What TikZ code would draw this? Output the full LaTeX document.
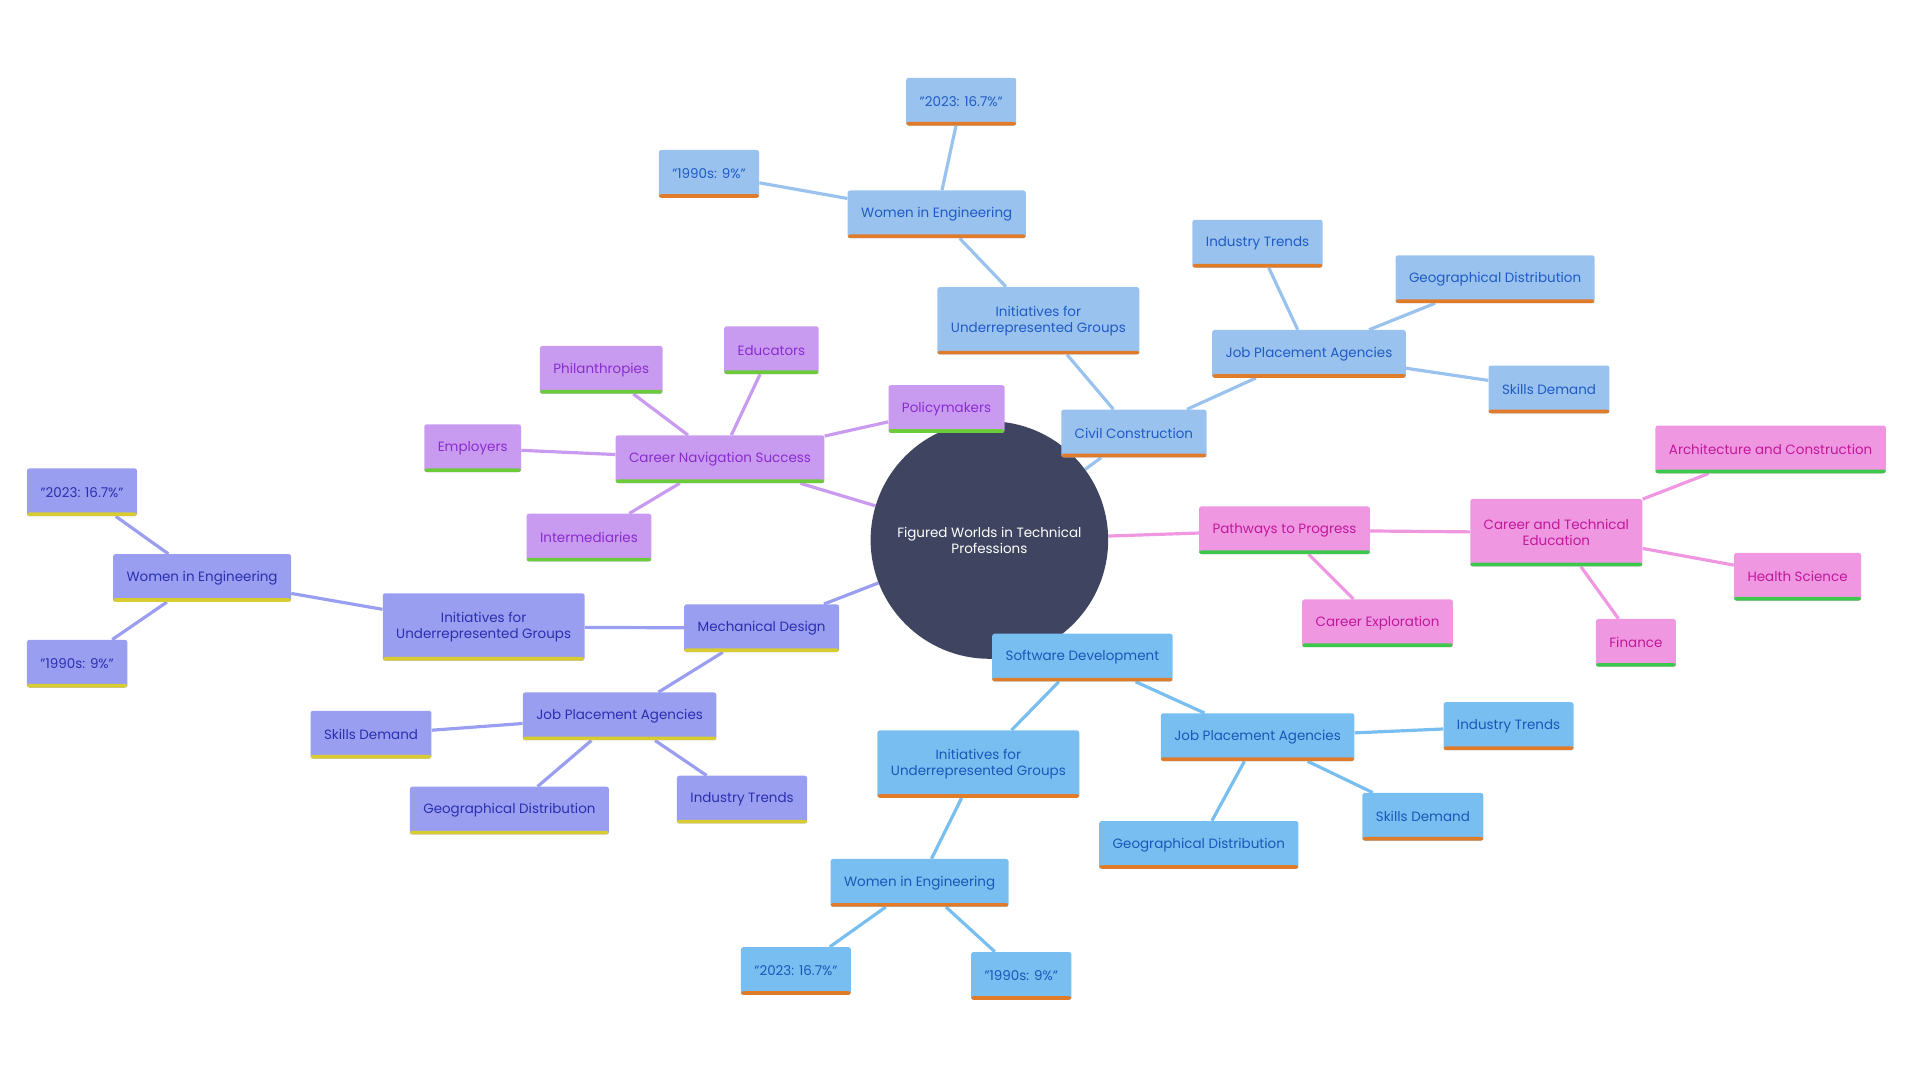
\documentclass[tikz,border=0pt]{standalone}
\usepackage{fontspec}
\setmainfont{Poppins}
\usetikzlibrary{backgrounds}

\definecolor{hubfill}{HTML}{3F4560}
\definecolor{civfill}{HTML}{9AC2EE}
\definecolor{civtext}{HTML}{1E5BC6}
\definecolor{navfill}{HTML}{C99BF0}
\definecolor{navtext}{HTML}{8A2BD0}
\definecolor{mechfill}{HTML}{9A9EF0}
\definecolor{mechtext}{HTML}{2A2FB0}
\definecolor{pathfill}{HTML}{F097E2}
\definecolor{pathtext}{HTML}{C0189A}
\definecolor{softfill}{HTML}{78BEF0}
\definecolor{softtext}{HTML}{1858B8}
\definecolor{barorange}{HTML}{E07B2A}
\definecolor{bargreen}{HTML}{6CCB3A}
\definecolor{barlime}{HTML}{3CC84A}
\definecolor{baryellow}{HTML}{D8CC30}

\tikzset{
  box/.style 2 args={rectangle, rounded corners=2pt, fill=#1, minimum height=39pt,
    inner xsep=11pt, align=center, font=\fontsize{11}{13}\selectfont,
    path picture={\fill[#2] (path picture bounding box.south west) rectangle
      ([yshift=3pt]path picture bounding box.south east);}},
  civ/.style={box={civfill}{barorange}, text=civtext},
  nav/.style={box={navfill}{bargreen}, text=navtext},
  mech/.style={box={mechfill}{baryellow}, text=mechtext},
  prog/.style={box={pathfill}{barlime}, text=pathtext},
  soft/.style={box={softfill}{barorange}, text=softtext},
  tall/.style={minimum height=55pt},
  link/.style={line width=2.6pt, draw=#1}
}

\begin{document}
\begin{tikzpicture}[x=1pt,y=-1pt]
  \useasboundingbox (0,0) rectangle (1568,882);

  % hub
  \node[circle, fill=hubfill, minimum size=194pt, text=white, align=center,
    font=\fontsize{11}{13}\selectfont] (hub) at (808,441)
    {Figured Worlds in Technical\\Professions};

  % civil construction
  \node[civ] (civ) at (926,354) {Civil Construction};
  \node[civ, tall] (civinit) at (848,262) {Initiatives for\\Underrepresented Groups};
  \node[civ] (civwomen) at (765,175) {Women in Engineering};
  \node[civ] (civ90) at (579,142) {"1990s: 9\%"};
  \node[civ] (civ23) at (785,83) {"2023: 16.7\%"};
  \node[civ] (civjob) at (1069,289) {Job Placement Agencies};
  \node[civ] (civtrend) at (1027,199) {Industry Trends};
  \node[civ] (civgeo) at (1221,228) {Geographical Distribution};
  \node[civ] (civskill) at (1265,318) {Skills Demand};

  % career navigation
  \node[nav] (nav) at (588,375) {Career Navigation Success};
  \node[nav] (navpol) at (773,334) {Policymakers};
  \node[nav] (navedu) at (630,286) {Educators};
  \node[nav] (navphil) at (491,302) {Philanthropies};
  \node[nav] (navemp) at (386,366) {Employers};
  \node[nav] (navint) at (481,439) {Intermediaries};

  % mechanical design
  \node[mech] (mech) at (622,513) {Mechanical Design};
  \node[mech, tall] (mechinit) at (395,512) {Initiatives for\\Underrepresented Groups};
  \node[mech] (mechwomen) at (165,472) {Women in Engineering};
  \node[mech] (mech23) at (67,402) {"2023: 16.7\%"};
  \node[mech] (mech90) at (63,542) {"1990s: 9\%"};
  \node[mech] (mechjob) at (506,585) {Job Placement Agencies};
  \node[mech] (mechskill) at (303,600) {Skills Demand};
  \node[mech] (mechgeo) at (416,662) {Geographical Distribution};
  \node[mech] (mechtrend) at (606,653) {Industry Trends};

  % pathways to progress
  \node[prog] (prog) at (1049,433) {Pathways to Progress};
  \node[prog, tall] (progcte) at (1271,435) {Career and Technical\\Education};
  \node[prog] (progarch) at (1446,367) {Architecture and Construction};
  \node[prog] (proghealth) at (1468,471) {Health Science};
  \node[prog] (progfin) at (1336,525) {Finance};
  \node[prog] (progexp) at (1125,509) {Career Exploration};

  % software development
  \node[soft] (soft) at (884,537) {Software Development};
  \node[soft, tall] (softinit) at (799,624) {Initiatives for\\Underrepresented Groups};
  \node[soft] (softwomen) at (751,721) {Women in Engineering};
  \node[soft] (soft23) at (650,793) {"2023: 16.7\%"};
  \node[soft] (soft90) at (834,797) {"1990s: 9\%"};
  \node[soft] (softjob) at (1027,602) {Job Placement Agencies};
  \node[soft] (softtrend) at (1232,593) {Industry Trends};
  \node[soft] (softskill) at (1162,667) {Skills Demand};
  \node[soft] (softgeo) at (979,690) {Geographical Distribution};

  % links
  \begin{scope}[on background layer]
    \draw[link=civfill] (hub) -- (civ);
    \draw[link=civfill] (civ) -- (civinit);
    \draw[link=civfill] (civinit) -- (civwomen);
    \draw[link=civfill] (civwomen) -- (civ90);
    \draw[link=civfill] (civwomen) -- (civ23);
    \draw[link=civfill] (civ) -- (civjob);
    \draw[link=civfill] (civjob) -- (civtrend);
    \draw[link=civfill] (civjob) -- (civgeo);
    \draw[link=civfill] (civjob) -- (civskill);

    \draw[link=navfill] (hub) -- (nav);
    \foreach \n in {navpol, navedu, navphil, navemp, navint}
      \draw[link=navfill] (nav) -- (\n);

    \draw[link=mechfill] (hub) -- (mech);
    \draw[link=mechfill] (mech) -- (mechinit);
    \draw[link=mechfill] (mechinit) -- (mechwomen);
    \draw[link=mechfill] (mechwomen) -- (mech23);
    \draw[link=mechfill] (mechwomen) -- (mech90);
    \draw[link=mechfill] (mech) -- (mechjob);
    \foreach \n in {mechskill, mechgeo, mechtrend}
      \draw[link=mechfill] (mechjob) -- (\n);

    \draw[link=pathfill] (hub) -- (prog);
    \draw[link=pathfill] (prog) -- (progcte);
    \draw[link=pathfill] (prog) -- (progexp);
    \foreach \n in {progarch, proghealth, progfin}
      \draw[link=pathfill] (progcte) -- (\n);

    \draw[link=softfill] (hub) -- (soft);
    \draw[link=softfill] (soft) -- (softinit);
    \draw[link=softfill] (softinit) -- (softwomen);
    \draw[link=softfill] (softwomen) -- (soft23);
    \draw[link=softfill] (softwomen) -- (soft90);
    \draw[link=softfill] (soft) -- (softjob);
    \foreach \n in {softtrend, softskill, softgeo}
      \draw[link=softfill] (softjob) -- (\n);
  \end{scope}
\end{tikzpicture}
\end{document}
